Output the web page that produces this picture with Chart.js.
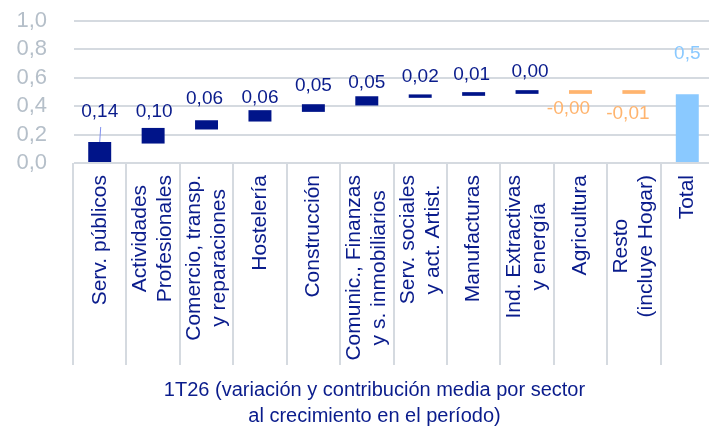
<!DOCTYPE html>
<html>
<head>
<meta charset="utf-8">
<script src="https://cdn.jsdelivr.net/npm/chart.js@4.4.1/dist/chart.umd.min.js"></script>
<style>
html, body { margin: 0; padding: 0; overflow: hidden; background: #fff; }
#wrap { width: 714px; height: 426px; }
</style>
</head>
<body>
<div id="wrap"><canvas id="waterfall"></canvas></div>
<script>
let sectors = [
  ["Serv. públicos"],
  ["Actividades", "Profesionales"],
  ["Comercio, transp.", "y reparaciones"],
  ["Hostelería"],
  ["Construcción"],
  ["Comunic., Finanzas", "y s. inmobiliarios"],
  ["Serv. sociales", "y act. Artist."],
  ["Manufacturas"],
  ["Ind. Extractivas", "y energía"],
  ["Agricultura"],
  ["Resto", "(incluye Hogar)"],
  ["Total"]
];
// bar start / end
let barLow  = [0, 0.137, 0.236, 0.292, 0.360, 0.405, 0.459, 0.473, 0.487, 0.487, 0.487, 0];
let barHigh = [0.148, 0.247, 0.301, 0.372, 0.414, 0.470, 0.483, 0.499, 0.513, 0.513, 0.513, 0.485];
let valueLabels = ["0,14", "0,10", "0,06", "0,06", "0,05", "0,05", "0,02", "0,01", "0,00", "-0,00", "-0,01", "0,5"];
let yTicks = [0, 0.2, 0.4, 0.6, 0.8, 1.0];
let axisTitle = ["1T26 (variación y contribución media por sector", "al crecimiento en el período)"];

const NAVY = "#001489";
const NAVY_TEXT = "#0A1C8C";
const ORANGE = "#FFB46E";
const SKY = "#8AC9FF";
const GRID = "#D5DAE0";
const FONT = '"Liberation Sans", Arial, sans-serif';

const isNeg = i => valueLabels[i].charAt(0) === "-";
const isTotal = i => i === sectors.length - 1;
const colorFor = i => isTotal(i) ? SKY : (isNeg(i) ? ORANGE : NAVY);

const waterfallExtras = {
  id: "waterfallExtras",
  afterDatasetsDraw(chart, args, opts) {
    const ctx = chart.ctx;
    const x = chart.scales.x;
    const area = chart.chartArea;
    const step = x.getPixelForValue(1) - x.getPixelForValue(0);
    ctx.save();

    // category separators below the axis
    ctx.strokeStyle = GRID;
    ctx.lineWidth = 2;
    for (let i = 0; i <= sectors.length; i++) {
      const px = Math.round(x.getPixelForValue(i) - step / 2);
      ctx.beginPath();
      ctx.moveTo(px, area.bottom);
      ctx.lineTo(px, area.bottom + 202);
      ctx.stroke();
    }

    // rotated category labels, lines centred on each other
    ctx.font = "21px " + FONT;
    ctx.fillStyle = NAVY_TEXT;
    ctx.textAlign = "center";
    ctx.textBaseline = "middle";
    sectors.forEach((lines, i) => {
      const w = Math.max(...lines.map(l => ctx.measureText(l).width));
      ctx.save();
      ctx.translate(x.getPixelForValue(i), area.bottom + 12);
      ctx.rotate(-Math.PI / 2);
      lines.forEach((l, j) => ctx.fillText(l, -w / 2, (j - (lines.length - 1) / 2) * 25));
      ctx.restore();
    });

    // value labels
    const meta = chart.getDatasetMeta(0);
    ctx.font = "19px " + FONT;
    ctx.lineWidth = 1;
    meta.data.forEach((el, i) => {
      const top = Math.min(el.y, el.base);
      const bot = Math.max(el.y, el.base);
      const ly = isNeg(i) ? bot + opts.dy[i] : top - opts.dy[i];
      ctx.fillStyle = isTotal(i) ? SKY : (isNeg(i) ? ORANGE : NAVY_TEXT);
      ctx.fillText(valueLabels[i], el.x + opts.dx[i], ly);
      if (opts.leader.includes(i)) {
        ctx.strokeStyle = "#7F8FEF";
        ctx.beginPath();
        ctx.moveTo(el.x + 1, top - 15);
        ctx.lineTo(el.x, top);
        ctx.stroke();
      }
    });

    // axis title
    ctx.font = "20px " + FONT;
    ctx.fillStyle = NAVY_TEXT;
    const cx = (area.left + area.right) / 2 - 19;
    ctx.fillText(axisTitle[0], cx, area.bottom + 227);
    ctx.fillText(axisTitle[1], cx, area.bottom + 253);
    ctx.restore();
  }
};

new Chart(document.getElementById("waterfall"), {
  type: "bar",
  data: {
    labels: sectors.map(s => s.join(" ")),
    datasets: [{
      data: barLow.map((lo, i) => [lo, barHigh[i]]),
      backgroundColor: sectors.map((s, i) => colorFor(i)),
      borderWidth: 0,
      barPercentage: 0.43,
      categoryPercentage: 1
    }]
  },
  options: {
    responsive: true,
    maintainAspectRatio: false,
    animation: false,
    layout: { padding: { top: 21, bottom: 263, left: 0, right: 0 } },
    plugins: {
      legend: { display: false },
      tooltip: { enabled: false },
      waterfallExtras: {
        dy: [30, 16, 21, 12, 18, 13, 18, 17, 18, 15, 20, 40],
        dx: [0, 1, -2, 0, 0, 0, 0, -2, 3, -12, -6, 0],
        leader: [0]
      }
    },
    scales: {
      x: {
        display: false
      },
      y: {
        min: yTicks[0],
        max: yTicks[yTicks.length - 1],
        ticks: {
          stepSize: yTicks[1] - yTicks[0],
          autoSkip: false,
          padding: 26,
          color: "#B5BFC9",
          font: { family: FONT, size: 22 },
          callback: v => v.toFixed(1).replace(".", ",")
        },
        afterFit: s => { s.width = 73; s.paddingTop = 0; s.paddingBottom = 0; },
        grid: { color: GRID, lineWidth: 2, tickLength: 0 },
        border: { color: "rgba(0,0,0,0)" }
      }
    }
  },
  plugins: [waterfallExtras]
});
</script>
</body>
</html>
